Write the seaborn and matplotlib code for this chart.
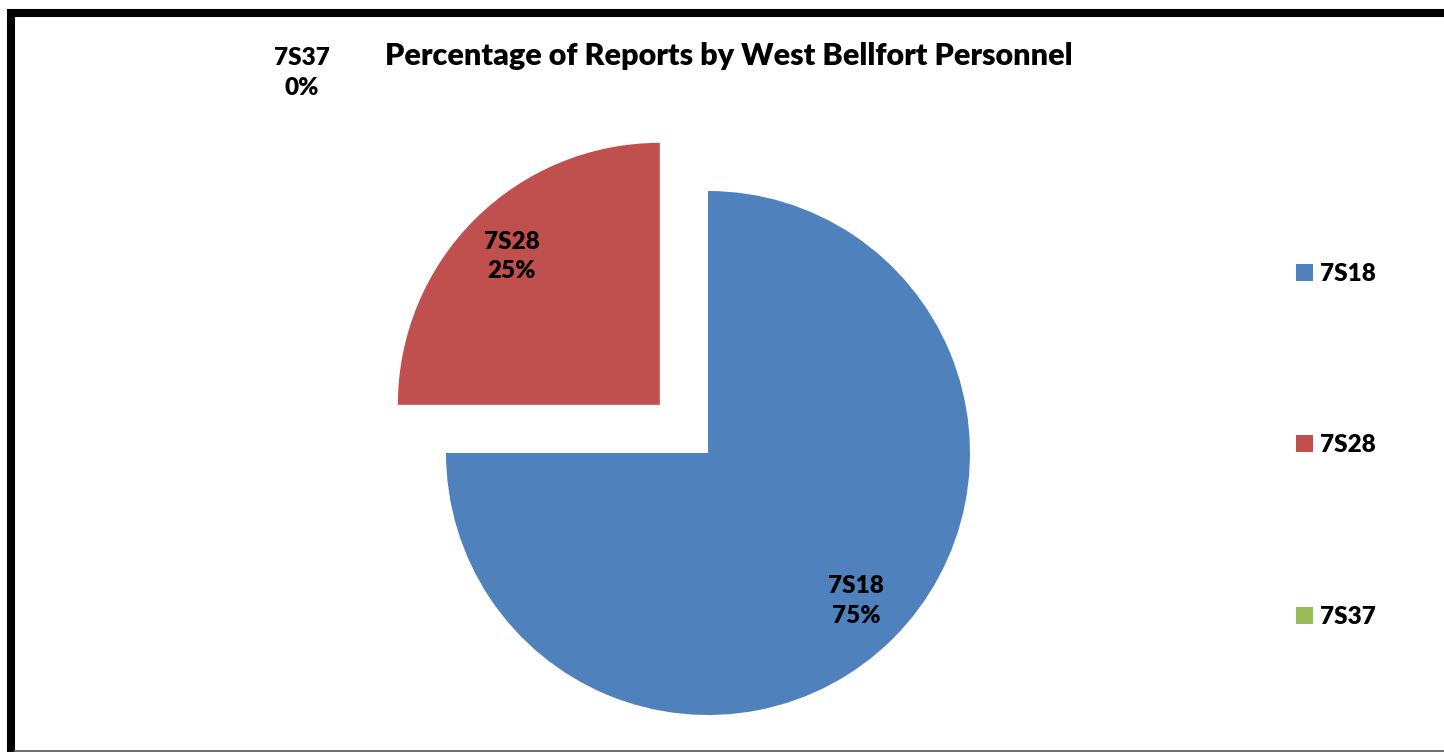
import matplotlib.pyplot as plt
from matplotlib.lines import Line2D
import seaborn as sns

# data
personnel = ['7S18', '7S28', '7S37']
shares = [75, 25, 0]
explode = [0, 0.26, 0]
palette = sns.color_palette(['#4F81BD', '#C0504D', '#9BBB59'])

sns.set_theme(style='white')
plt.rcParams['font.family'] = ['Lato', 'DejaVu Sans']
plt.rcParams['text.color'] = 'black'

fig = plt.figure(figsize=(14.44, 7.52), dpi=100)
ax = fig.add_axes([0, 0, 1, 1])

wedges, texts, autotexts = ax.pie(
    shares, explode=explode, colors=palette, startangle=90,
    counterclock=False, radius=1, pctdistance=0.8,
    autopct=lambda p: '', wedgeprops=dict(linewidth=0))

# data labels "name\npct"
for a, name, v in zip(autotexts, personnel, shares):
    a.set_text(f'{name}\n{v:.0f}%')
    a.set_fontsize(17.5)
    a.set_fontweight('heavy')
    a.set_color('black')
    a.set_linespacing(1.42)
    a.set_ha('center')
    a.set_va('center')
# zero slice label sits above the plot, as in the original
autotexts[2].set_position((-1.55, 1.45))

# pixel-matched limits: center at (708, 453) px, radius 262 px
r_px = 262
ax.set_aspect('auto')
ax.set_xlim(-708 / r_px, (1444 - 708) / r_px)
ax.set_ylim(-(752 - 453) / r_px, 453 / r_px)
ax.axis('off')

fig.text(0.505, 0.925, 'Percentage of Reports by West Bellfort Personnel',
         ha='center', va='center', fontsize=22, fontweight='heavy',
         color='black')

leg = fig.legend(wedges, personnel, loc='upper left',
                 bbox_to_anchor=(1274 / 1444, 1 - 241 / 752),
                 frameon=False, labelspacing=6.15, handlelength=0.7,
                 handleheight=0.7, handletextpad=0.3,
                 prop=dict(weight='heavy', size=17.5))

# frame lines (left / top thick, bottom thin)
fig.add_artist(Line2D([10.5 / 1444, 10.5 / 1444], [0, 1 - 9 / 752],
                      transform=fig.transFigure, color='black', lw=5.8,
                      solid_capstyle='butt'))
fig.add_artist(Line2D([7 / 1444, 1], [1 - 13 / 752, 1 - 13 / 752],
                      transform=fig.transFigure, color='black', lw=5.8,
                      solid_capstyle='butt'))
fig.add_artist(Line2D([14 / 1444, 1], [1.5 / 752, 1.5 / 752],
                      transform=fig.transFigure, color='#555555', lw=1.2))

fig.savefig('out.png', dpi=100, facecolor='white')
